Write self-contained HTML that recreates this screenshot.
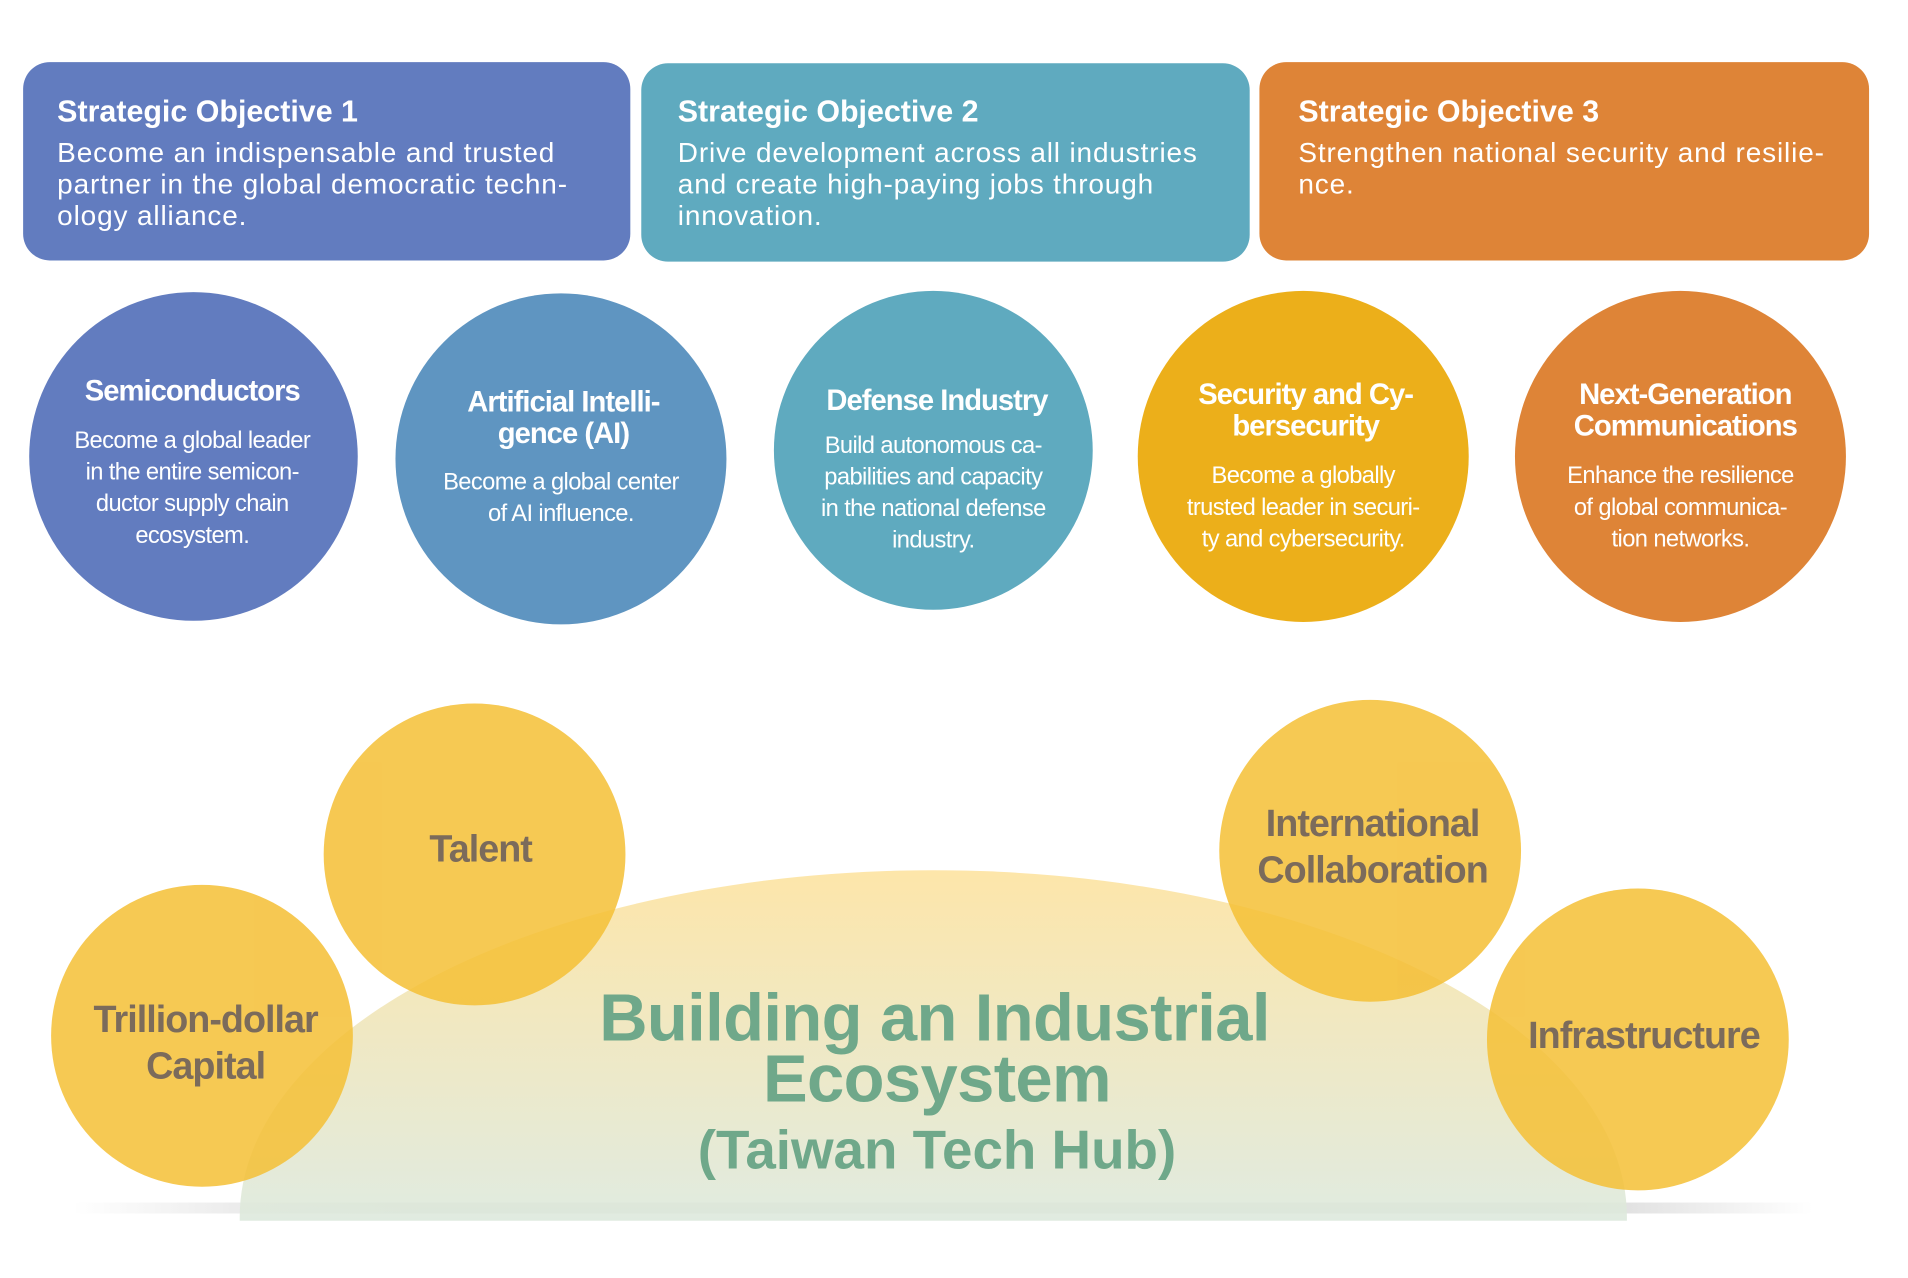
<!DOCTYPE html>
<html><head><meta charset="utf-8"><style>html,body{margin:0;padding:0;background:#fff}svg{display:block}</style></head>
<body>
<svg xmlns="http://www.w3.org/2000/svg" width="1908" height="1278" viewBox="0 0 1568 1050" preserveAspectRatio="none" font-family="'Liberation Sans', sans-serif">
<defs>
<linearGradient id="dome" x1="0" y1="0" x2="0" y2="1"><stop offset="0" stop-color="#fde3a0"/><stop offset="1" stop-color="#dde9dd"/></linearGradient>
<linearGradient id="sh" x1="0" y1="0" x2="1" y2="0"><stop offset="0" stop-color="#d6d6d6" stop-opacity="0"/><stop offset="0.2" stop-color="#d6d6d6"/><stop offset="0.85" stop-color="#d6d6d6"/><stop offset="1" stop-color="#d6d6d6" stop-opacity="0"/></linearGradient>
</defs>
<rect x="19" y="51" width="499" height="163" rx="22" fill="#627cbf"/>
<rect x="527" y="52" width="500" height="163" rx="22" fill="#5faabf"/>
<rect x="1035" y="51" width="501" height="163" rx="22" fill="#de8437"/>
<g fill="#fff">
<text x="47" y="100" font-size="25" font-weight="bold">Strategic Objective 1</text>
<text font-size="23" letter-spacing="0.7"><tspan x="47" y="133">Become an indispensable and trusted</tspan><tspan x="47" y="159">partner in the global democratic techn-</tspan><tspan x="47" y="185">ology alliance.</tspan></text>
<text x="557" y="100" font-size="25" font-weight="bold">Strategic Objective 2</text>
<text font-size="23" letter-spacing="0.7"><tspan x="557" y="133">Drive development across all industries</tspan><tspan x="557" y="159">and create high-paying jobs through</tspan><tspan x="557" y="185">innovation.</tspan></text>
<text x="1067" y="100" font-size="25" font-weight="bold">Strategic Objective 3</text>
<text font-size="23" letter-spacing="0.7"><tspan x="1067" y="133">Strengthen national security and resilie-</tspan><tspan x="1067" y="159">nce.</tspan></text>
</g>
<circle cx="159" cy="375" r="135" fill="#627cbf"/>
<circle cx="461" cy="377" r="136" fill="#5f95c1"/>
<circle cx="767" cy="370" r="131" fill="#5faabf"/>
<circle cx="1071" cy="375" r="136" fill="#ecaf1a"/>
<circle cx="1381" cy="375" r="136" fill="#de8437"/>
<g fill="#fff" text-anchor="middle">
<text x="158" y="329" font-size="24" font-weight="bold" letter-spacing="-0.8">Semiconductors</text>
<text font-size="19.5" letter-spacing="-0.5"><tspan x="158" y="368">Become a global leader</tspan><tspan x="158" y="394">in the entire semicon-</tspan><tspan x="158" y="420">ductor supply chain</tspan><tspan x="158" y="446">ecosystem.</tspan></text>
<text font-size="24" font-weight="bold" letter-spacing="-0.8"><tspan x="463" y="338">Artificial Intelli-</tspan><tspan x="463" y="364">gence (AI)</tspan></text>
<text font-size="19.5" letter-spacing="-0.5"><tspan x="461" y="402">Become a global center</tspan><tspan x="461" y="428">of AI influence.</tspan></text>
<text x="770" y="337" font-size="24" font-weight="bold" letter-spacing="-0.8">Defense Industry</text>
<text font-size="19.5" letter-spacing="-0.5"><tspan x="767" y="372">Build autonomous ca-</tspan><tspan x="767" y="398">pabilities and capacity</tspan><tspan x="767" y="424">in the national defense</tspan><tspan x="767" y="450">industry.</tspan></text>
<text font-size="24" font-weight="bold" letter-spacing="-0.8"><tspan x="1073" y="332">Security and Cy-</tspan><tspan x="1073" y="358">bersecurity</tspan></text>
<text font-size="19.5" letter-spacing="-0.5"><tspan x="1071" y="397">Become a globally</tspan><tspan x="1071" y="423">trusted leader in securi-</tspan><tspan x="1071" y="449">ty and cybersecurity.</tspan></text>
<text font-size="24" font-weight="bold" letter-spacing="-0.8"><tspan x="1385" y="332">Next-Generation</tspan><tspan x="1385" y="358">Communications</tspan></text>
<text font-size="19.5" letter-spacing="-0.5"><tspan x="1381" y="397">Enhance the resilience</tspan><tspan x="1381" y="423">of global communica-</tspan><tspan x="1381" y="449">tion networks.</tspan></text>
</g>
<rect x="60" y="988" width="1430" height="9" fill="url(#sh)"/>
<path d="M197 1003 L197 1000 A570 285 0 0 1 1337 1000 L1337 1003 Z" fill="url(#dome)" opacity="0.9"/>
<g opacity="0.85" fill="#f5bf35">
<circle cx="390" cy="702" r="124"/>
<circle cx="166" cy="851" r="124"/>
<circle cx="1126" cy="699" r="124"/>
<circle cx="1346" cy="854" r="124"/>
</g>
<g fill="#7b6b5b" font-weight="bold" font-size="31" text-anchor="middle" letter-spacing="-0.8">
<text x="395" y="708">Talent</text>
<text x="169" y="848">Trillion-dollar</text><text x="169" y="886">Capital</text>
<text x="1128" y="687">International</text><text x="1128" y="725">Collaboration</text>
<text x="1351" y="861">Infrastructure</text>
</g>
<g fill="#6fa88a" font-weight="bold" text-anchor="middle">
<text x="768" y="855" font-size="55" letter-spacing="-0.5">Building an Industrial</text>
<text x="770" y="905" font-size="55" letter-spacing="-0.5">Ecosystem</text>
<text x="770" y="960" font-size="45">(Taiwan Tech Hub)</text>
</g>
</svg>
</body></html>
